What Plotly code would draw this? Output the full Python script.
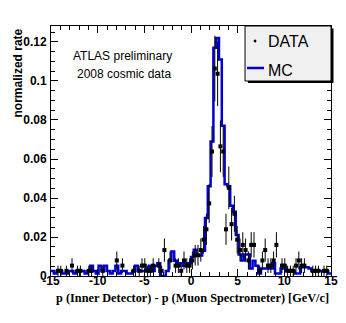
import numpy as np
import plotly.graph_objects as go

# 100 bins of 0.3 GeV/c between -15 and 15
BIN_LO = -15.0
BIN_W = 0.3
N_BINS = 100

# MC histogram, normalized rate per bin
mc_rate = [
    0.0026, 0.0013, 0.0026, 0.0026, 0.0013, 0.0013, 0.0026, 0.0026, 0.0013, 0.0026,
    0.0026, 0.0026, 0.0013, 0.0026, 0.0052, 0.0026, 0.0013, 0.0052, 0.0026, 0.0052,
    0.0026, 0.0013, 0.0026, 0.0052, 0.0013, 0.0026, 0.0026, 0.0013, 0.0013, 0.0026,
    0.0052, 0.0026, 0.0026, 0.0026, 0.0039, 0.0052, 0.0026, 0.0052, 0.0065, 0.0000,
    0.0000, 0.0026, 0.0078, 0.0125, 0.0078, 0.0052, 0.0065, 0.0052, 0.0065, 0.0065,
    0.0097, 0.0135, 0.0105, 0.0105, 0.0130, 0.0297, 0.0460, 0.0690, 0.1170, 0.1220,
    0.1110, 0.0770, 0.0470, 0.0460, 0.0360, 0.0330, 0.0210, 0.0110, 0.0080, 0.0110,
    0.0110, 0.0039, 0.0078, 0.0052, 0.0013, 0.0039, 0.0039, 0.0039, 0.0039, 0.0065,
    0.0013, 0.0013, 0.0039, 0.0039, 0.0026, 0.0026, 0.0026, 0.0013, 0.0013, 0.0045,
    0.0045, 0.0045, 0.0039, 0.0026, 0.0026, 0.0026, 0.0026, 0.0026, 0.0026, 0.0013,
]

# data: event counts per bin, normalized to the total
N_EVENTS = 376
data_counts = [
    0, 0, 1, 1, 0, 1, 0, 2, 0, 1,
    1, 0, 0, 1, 1, 0, 0, 0, 1, 0,
    0, 0, 0, 3, 0, 2, 0, 0, 0, 1,
    0, 1, 2, 2, 1, 1, 2, 0, 2, 1,
    5, 0, 3, 0, 2, 2, 1, 3, 2, 2,
    3, 4, 4, 5, 7, 9, 14, 24, 40, 39,
    25, 24, 9, 17, 10, 12, 7, 5, 6, 5,
    3, 6, 6, 0, 1, 3, 5, 2, 2, 3,
    6, 0, 2, 2, 1, 1, 1, 2, 3, 2,
    2, 0, 0, 1, 1, 1, 0, 1, 1, 0,
]

x_tick_vals = [-15, -10, -5, 0, 5, 10, 15]
x_tick_text = ["-15", "-10", "-5", "0", "5", "10", "15"]
y_tick_vals = [0, 0.02, 0.04, 0.06, 0.08, 0.1, 0.12]
y_tick_text = ["0", "0.02", "0.04", "0.06", "0.08", "0.1", "0.12"]

edges = BIN_LO + BIN_W * np.arange(N_BINS + 1)
centers = edges[:-1] + BIN_W / 2

counts = np.array(data_counts, dtype=float)
keep = counts > 0
data_rate = counts[keep] / N_EVENTS
data_err = np.sqrt(counts[keep]) / N_EVENTS

BLUE = "#0000d0"
SANS = "Liberation Sans, Arial, sans-serif"
SERIF = "Liberation Serif, Times New Roman, serif"

fig = go.Figure()

# MC as a step outline
fig.add_trace(go.Scatter(
    x=edges,
    y=list(mc_rate) + [mc_rate[-1]],
    mode="lines",
    line=dict(color=BLUE, width=2.5, shape="hv"),
    showlegend=False,
    hoverinfo="skip",
))

# data points with errors
fig.add_trace(go.Scatter(
    x=centers[keep],
    y=data_rate,
    mode="markers",
    marker=dict(color="black", size=4, symbol="square"),
    error_y=dict(type="data", array=data_err, color="black", thickness=1, width=0),
    error_x=dict(type="constant", value=BIN_W / 2, color="black", thickness=1, width=0),
    showlegend=False,
))

axis_common = dict(
    showgrid=False,
    zeroline=False,
    showline=True,
    linecolor="black",
    linewidth=1,
    mirror="allticks",
    ticks="inside",
    ticklen=7,
    tickcolor="black",
    tickwidth=1,
    tickfont=dict(family=SANS, size=12, color="black", weight="bold"),
)

fig.update_xaxes(
    range=[-15, 15],
    tickmode="array",
    tickvals=x_tick_vals,
    ticktext=x_tick_text,
    minor=dict(tickmode="linear", tick0=0, dtick=1, ticks="inside", ticklen=4,
               tickcolor="black", tickwidth=1),
    ticklabelstandoff=-6,
    **axis_common,
)
fig.update_yaxes(
    range=[0, 0.1282],
    tickmode="array",
    tickvals=y_tick_vals,
    ticktext=y_tick_text,
    minor=dict(tickmode="linear", tick0=0, dtick=0.005, ticks="inside", ticklen=4,
               tickcolor="black", tickwidth=1),
    ticklabelstandoff=1,
    **axis_common,
)

# legend box drawn by hand, ROOT style with a shadow
shapes = [
    dict(type="rect", xref="paper", yref="paper", x0=0.7036, x1=1.0089, y0=0.772, y1=0.99,
         fillcolor="black", line=dict(width=0), layer="above"),
    dict(type="rect", xref="paper", yref="paper", x0=0.693, x1=1.0, y0=0.78, y1=1.0,
         fillcolor="#f0f0f0", line=dict(color="black", width=1), layer="above"),
    dict(type="circle", xref="paper", yref="paper", x0=0.7236, x1=0.7336, y0=0.934, y1=0.946,
         fillcolor="black", line=dict(width=0), layer="above"),
    dict(type="line", xref="paper", yref="paper", x0=0.70, x1=0.7607, y0=0.832, y1=0.832,
         line=dict(color=BLUE, width=2.5), layer="above"),
]

annotations = [
    dict(text="DATA", x=0.768, y=0.936, xref="paper", yref="paper", xanchor="left",
         yanchor="middle", showarrow=False, font=dict(family=SANS, size=16, color="black")),
    dict(text="MC", x=0.768, y=0.824, xref="paper", yref="paper", xanchor="left",
         yanchor="middle", showarrow=False, font=dict(family=SANS, size=16, color="black")),
    dict(text="ATLAS preliminary", x=0.2536, y=0.88, xref="paper", yref="paper",
         xanchor="center", yanchor="middle", showarrow=False,
         font=dict(family=SANS, size=12, color="black")),
    dict(text="2008 cosmic data", x=0.259, y=0.808, xref="paper", yref="paper",
         xanchor="center", yanchor="middle", showarrow=False,
         font=dict(family=SANS, size=12, color="black")),
    dict(text="normalized rate", x=-0.118, y=1.0, xref="paper", yref="paper",
         xanchor="center", yanchor="top", textangle=-90, showarrow=False,
         font=dict(family=SANS, size=12, color="black", weight="bold")),
    dict(text="p (Inner Detector) - p (Muon Spectrometer) [GeV/c]", x=1.0, y=-0.088,
         xref="paper", yref="paper", xanchor="right", yanchor="middle", showarrow=False,
         font=dict(family=SERIF, size=12.3, color="black", weight="bold")),
]

fig.update_layout(
    width=346,
    height=323,
    margin=dict(l=43, r=23, t=18, b=55),
    paper_bgcolor="white",
    plot_bgcolor="white",
    showlegend=False,
    shapes=shapes,
    annotations=annotations,
)

fig.write_html("out.html")
